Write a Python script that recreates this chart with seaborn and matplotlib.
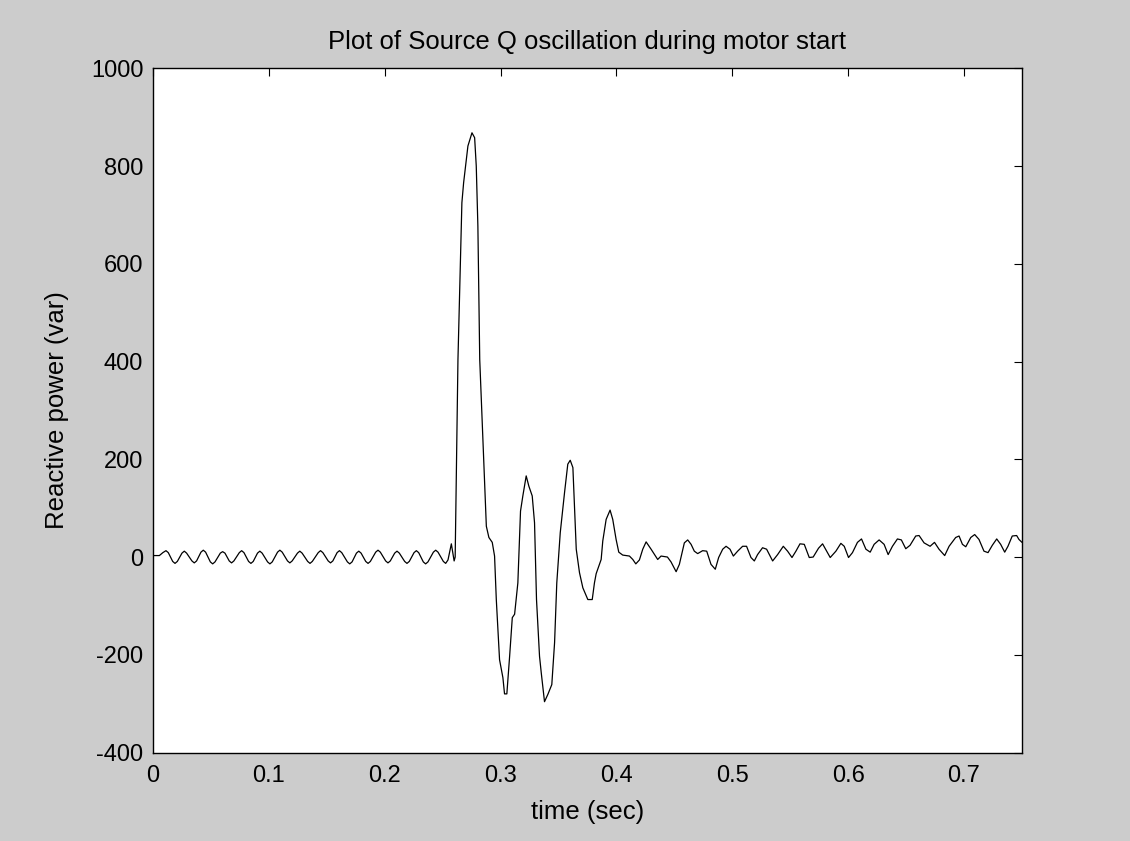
import matplotlib
matplotlib.use("Agg")
import matplotlib.pyplot as plt
import pandas as pd
import seaborn as sns

# ---- data ----
# steady 60 Hz ripple before the motor start
t_pre = [
    0.0, 0.0055, 0.0085, 0.0112, 0.0132, 0.0170, 0.0190, 0.0210, 0.0250, 0.0270,
    0.0290, 0.0336, 0.0356, 0.0376, 0.0414, 0.0434, 0.0454, 0.0495, 0.0515, 0.0535,
    0.0581, 0.0601, 0.0621, 0.0658, 0.0678, 0.0698, 0.0745, 0.0765, 0.0785, 0.0825,
    0.0845, 0.0865, 0.0902, 0.0922, 0.0942, 0.0989, 0.1009, 0.1029, 0.1075, 0.1095,
    0.1115, 0.1161, 0.1181, 0.1201, 0.1247, 0.1267, 0.1287, 0.1335, 0.1355, 0.1375,
    0.1426, 0.1446, 0.1466, 0.1512, 0.1532, 0.1552, 0.1589, 0.1609, 0.1629, 0.1678,
    0.1698, 0.1718, 0.1756, 0.1776, 0.1796, 0.1836, 0.1856, 0.1876, 0.1922, 0.1942,
    0.1962, 0.2008, 0.2028, 0.2048, 0.2086, 0.2106, 0.2126, 0.2172, 0.2192, 0.2212,
    0.2253, 0.2273, 0.2293, 0.2333, 0.2353, 0.2373, 0.2420, 0.2440, 0.2460, 0.2506,
    0.2526, 0.2546, 0.2575, 0.2599,
]
q_pre = [
    3, 3, 9, 13, 9, -9, -13, -9, 8, 12,
    8, -8, -12, -8, 10, 14, 10, -10, -14, -10,
    8, 11, 8, -8, -12, -8, 9, 13, 9, -9,
    -13, -9, 8, 12, 8, -10, -14, -10, 10, 14,
    10, -8, -12, -8, 8, 12, 8, -9, -13, -9,
    9, 13, 9, -8, -12, -8, 9, 13, 9, -10,
    -14, -10, 8, 12, 8, -9, -13, -9, 10, 14,
    10, -8, -12, -8, 8, 12, 8, -9, -13, -9,
    9, 13, 9, -10, -14, -10, 10, 14, 10, -9,
    -13, -6, 27, -8,
]
# transient and the ripple after it
t_post = [
    0.2608,
    0.2632, 0.2666, 0.2681, 0.2718, 0.2753, 0.2776, 0.2790, 0.2804, 0.2820, 0.2877,
    0.2899, 0.2928, 0.2948, 0.2963, 0.2991, 0.3020, 0.3034, 0.3054, 0.3078, 0.3101,
    0.3121, 0.3149, 0.3172, 0.3192, 0.3221, 0.3244, 0.3273, 0.3293, 0.3310, 0.3336,
    0.3351, 0.3379, 0.3408, 0.3442, 0.3466, 0.3485, 0.3515, 0.3552, 0.3580, 0.3601,
    0.3624, 0.3653, 0.3681, 0.3710, 0.3753, 0.3791, 0.3810, 0.3825, 0.3868, 0.3882,
    0.3911, 0.3945, 0.3968, 0.3997, 0.4020, 0.4054, 0.4112, 0.4141, 0.4167, 0.4198,
    0.4227, 0.4256, 0.4299, 0.4356, 0.4385, 0.4440, 0.4471, 0.4515, 0.4543, 0.4586,
    0.4615, 0.4644, 0.4672, 0.4701, 0.4744, 0.4779, 0.4816, 0.4853, 0.4882, 0.4917,
    0.4946, 0.4980, 0.5009, 0.5046, 0.5089, 0.5123, 0.5161, 0.5190, 0.5218, 0.5261,
    0.5296, 0.5348, 0.5391, 0.5440, 0.5477, 0.5515, 0.5549, 0.5584, 0.5621, 0.5664,
    0.5698, 0.5744, 0.5779, 0.5845, 0.5894, 0.5937, 0.5966, 0.6003, 0.6037, 0.6080,
    0.6115, 0.6153, 0.6190, 0.6224, 0.6267, 0.6310, 0.6345, 0.6382, 0.6425, 0.6459,
    0.6497, 0.6534, 0.6583, 0.6612, 0.6655, 0.6707, 0.6745, 0.6784, 0.6833, 0.6871,
    0.6928, 0.6957, 0.6986, 0.7015, 0.7058, 0.7092, 0.7129, 0.7172, 0.7207, 0.7244,
    0.7282, 0.7316, 0.7351, 0.7379, 0.7416, 0.7454, 0.7474, 0.7500,
]
q_post = [
    0,
    404, 725, 766, 841, 868, 858, 800, 677, 404, 63,
    40, 30, 2, -87, -210, -247, -280, -280, -203, -124,
    -117, -53, 94, 125, 166, 145, 125, 70, -87, -203,
    -237, -296, -281, -261, -175, -53, 50, 132, 190, 198,
    183, 16, -32, -63, -87, -87, -53, -34, -5, 33,
    77, 96, 77, 36, 10, 4, 2, -5, -14, -6,
    16, 31, 16, -5, 2, 0, -10, -30, -15, 29,
    35, 26, 12, 7, 13, 12, -15, -25, -1, 16,
    22, 16, 2, 12, 22, 22, -1, -8, 5, 19,
    16, -8, 5, 22, 12, -1, 12, 27, 26, -1,
    0, 18, 27, -1, 12, 28, 22, -1, 9, 30,
    37, 16, 10, 26, 35, 26, 5, 22, 37, 35,
    17, 24, 43, 44, 29, 22, 30, 16, 3, 22,
    40, 43, 26, 21, 40, 46, 36, 12, 9, 24,
    37, 26, 10, 22, 43, 44, 36, 30,
]
x_ticks = [0, 0.1, 0.2, 0.3, 0.4, 0.5, 0.6, 0.7]
x_tick_labels = ["0", "0.1", "0.2", "0.3", "0.4", "0.5", "0.6", "0.7"]
y_ticks = [-400, -200, 0, 200, 400, 600, 800, 1000]
y_tick_labels = ["-400", "-200", "0", "200", "400", "600", "800", "1000"]

title_text = "Plot of Source Q oscillation during motor start"
x_label = "time (sec)"
y_label = "Reactive power (var)"

# ---- style ----
sns.set_theme(style="white")
plt.rcParams["font.family"] = ["Liberation Sans", "DejaVu Sans"]

fig = plt.figure(figsize=(11.3, 8.41), dpi=100, facecolor="#cccccc")
ax = fig.add_axes([0.1354, 0.1052, 0.769, 0.8136])
ax.set_facecolor("white")

df = pd.DataFrame({"time": t_pre + t_post, "Q": q_pre + q_post})
sns.lineplot(data=df, x="time", y="Q", ax=ax, color="black",
             linewidth=0.9, estimator=None, sort=False)

ax.set_xlim(0, 0.75)
ax.set_ylim(-400, 1000)
ax.set_xticks(x_ticks)
ax.set_xticklabels(x_tick_labels)
ax.set_yticks(y_ticks)
ax.set_yticklabels(y_tick_labels)

for s in ax.spines.values():
    s.set_visible(True)
    s.set_color("black")
    s.set_linewidth(1.0)

ax.tick_params(direction="in", length=6, width=0.8, top=True, right=True,
               labelsize=17, colors="black", pad=7)
ax.tick_params(axis="x", pad=9)

ax.set_xlabel(x_label, fontsize=18.5, color="black", labelpad=9)
ax.set_ylabel(y_label, fontsize=18.5, color="black", labelpad=16)
ax.set_title(title_text, fontsize=18.5, color="black", pad=14)

fig.savefig("out.png", dpi=100, facecolor=fig.get_facecolor())
